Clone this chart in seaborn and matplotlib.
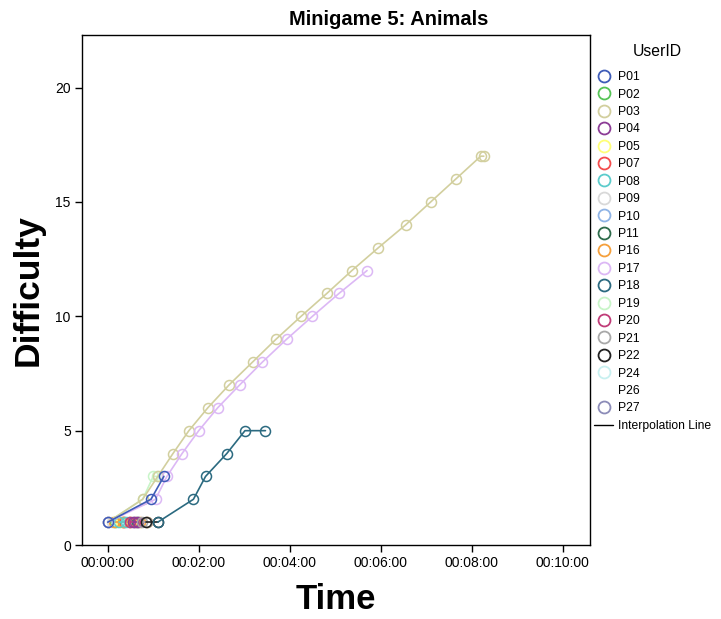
import matplotlib
matplotlib.use("Agg")
import matplotlib.pyplot as plt
import pandas as pd
import seaborn as sns
from matplotlib.lines import Line2D
from matplotlib.ticker import FuncFormatter

# legend order and colours (SPSS default-ish palette)
user_ids = ["P01", "P02", "P03", "P04", "P05", "P07", "P08", "P09", "P10", "P11",
            "P16", "P17", "P18", "P19", "P20", "P21", "P22", "P24", "P26", "P27"]
user_colors = ["#3e5cb8", "#56c456", "#d2cf9e", "#8c3c96", "#ffff78", "#f44c4c",
               "#5ccccc", "#d9d9d9", "#8fb4e6", "#2d6b4a", "#f5a03c", "#dcb8f5",
               "#2b6a80", "#c8f5c8", "#c03c78", "#a8a8a8", "#202020", "#c8f0f0",
               "#ffffff", "#8c8cb8"]

# time in seconds, difficulty level
p01_time = [0, 57, 74]
p01_diff = [1, 2, 3]
p02_time = [10]
p02_diff = [1]
p03_time = [0, 46, 66, 86, 107, 132, 160, 191, 222, 255, 289, 322, 357, 393, 426, 459, 492, 496]
p03_diff = [1, 2, 3, 4, 5, 6, 7, 8, 9, 10, 11, 12, 13, 14, 15, 16, 17, 17]
p04_time = [33, 40]
p04_diff = [1, 1]
p05_time = [18]
p05_diff = [1]
p07_time = [22]
p07_diff = [1]
p08_time = [15, 24]
p08_diff = [1, 1]
p09_time = [5, 12]
p09_diff = [1, 1]
p10_time = [28]
p10_diff = [1]
p11_time = [38]
p11_diff = [1]
p16_time = [8, 20, 30, 42, 52]
p16_diff = [1, 1, 1, 1, 1]
p17_time = [0, 63, 78, 98, 120, 145, 174, 204, 236, 270, 305, 342]
p17_diff = [1, 2, 3, 4, 5, 6, 7, 8, 9, 10, 11, 12]
p18_time = [66, 113, 129, 157, 181, 208]
p18_diff = [1, 2, 3, 4, 5, 5]
p19_time = [0, 46, 60, 65]
p19_diff = [1, 2, 3, 3]
p20_time = [30, 36]
p20_diff = [1, 1]
p21_time = [45, 52]
p21_diff = [1, 1]
p22_time = [50, 66]
p22_diff = [1, 1]
p24_time = [12]
p24_diff = [1]
p27_time = [0, 20, 35]
p27_diff = [1, 1, 1]

series = {
    "P27": (p27_time, p27_diff), "P09": (p09_time, p09_diff), "P24": (p24_time, p24_diff),
    "P02": (p02_time, p02_diff), "P05": (p05_time, p05_diff), "P07": (p07_time, p07_diff),
    "P10": (p10_time, p10_diff), "P11": (p11_time, p11_diff), "P16": (p16_time, p16_diff),
    "P08": (p08_time, p08_diff), "P20": (p20_time, p20_diff), "P04": (p04_time, p04_diff),
    "P21": (p21_time, p21_diff), "P22": (p22_time, p22_diff), "P19": (p19_time, p19_diff),
    "P03": (p03_time, p03_diff), "P17": (p17_time, p17_diff), "P01": (p01_time, p01_diff),
    "P18": (p18_time, p18_diff),
}
rows = []
for uid, (ts, ds) in series.items():
    for t, d in zip(ts, ds):
        rows.append({"UserID": uid, "Time": t, "Difficulty": d})
df = pd.DataFrame(rows)
palette = dict(zip(user_ids, user_colors))

sns.set_style("white")
plt.rcParams["font.family"] = ["Liberation Sans", "DejaVu Sans"]
plt.rcParams["text.color"] = "black"
plt.rcParams["axes.labelcolor"] = "black"
plt.rcParams["xtick.color"] = "black"
plt.rcParams["ytick.color"] = "black"

fig = plt.figure(figsize=(7.21, 6.19), dpi=100)
ax = fig.add_axes([0.1137, 0.1195, 0.7045, 0.824])

sns.lineplot(data=df, x="Time", y="Difficulty", hue="UserID", hue_order=list(series.keys()),
             palette=palette, estimator=None, sort=False, marker="o", markersize=7.2,
             linewidth=1.2, legend=False, ax=ax)
for line in ax.lines:
    line.set_markeredgecolor(line.get_color())
    line.set_markerfacecolor("none")
    line.set_markeredgewidth(1.1)

ax.set_xlim(-34, 636)
ax.set_ylim(0, 22.3)
ax.set_xticks([0, 120, 240, 360, 480, 600])
ax.set_yticks([0, 5, 10, 15, 20])
ax.xaxis.set_major_formatter(FuncFormatter(lambda v, p: f"00:{int(v) // 60:02d}:{int(v) % 60:02d}"))
ax.tick_params(axis="both", direction="out", length=5, width=1, labelsize=10,
               bottom=True, left=True, color="black", pad=3)
for s in ax.spines.values():
    s.set_color("black")
    s.set_linewidth(1)

# SPSS centres the title over the whole chart incl. legend
fig.text(0.5395, 0.968, "Minigame 5: Animals", fontsize=14.5, fontweight="bold",
         ha="center", va="center")
ax.set_xlabel("Time", fontsize=25, fontweight="bold", labelpad=9)
ax.set_ylabel("Difficulty", fontsize=25.5, fontweight="bold", labelpad=8)

handles = []
for uid, col in zip(user_ids, user_colors):
    handles.append(Line2D([], [], linestyle="none", marker="o", markersize=8.6,
                          markerfacecolor="none", markeredgecolor=col, markeredgewidth=1.3))
handles.append(Line2D([], [], color="black", linewidth=1))
labels = user_ids + ["Interpolation Line"]
fig.text(657 / 721, 1 - 52 / 619, "UserID", fontsize=11.3, ha="center", va="center")
fig.legend(handles, labels, loc="upper left", bbox_to_anchor=(0.817, 0.893),
           frameon=False, fontsize=8.7, labelspacing=0.45, handlelength=1.6,
           handletextpad=0.4, borderaxespad=0)

fig.savefig("out.png", dpi=100)
